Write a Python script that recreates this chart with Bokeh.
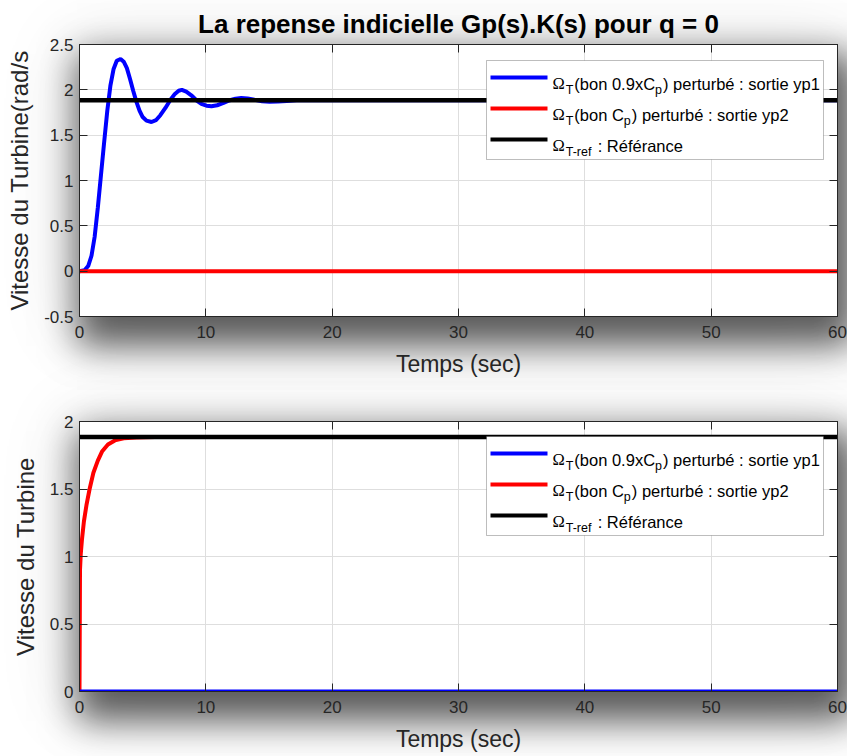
from bokeh.plotting import figure
from bokeh.layouts import column
from bokeh.models import (Range1d, FixedTicker, LinearAxis, BoxAnnotation, Label,
                          CustomJSTickFormatter, InlineStyleSheet)
from bokeh.embed import file_html
from bokeh.resources import INLINE

# ---- data -----------------------------------------------------------------
# yp1 : step response with 0.9xCp (perturbed), read at sample instants
t_yp1 = [0, 0.4, 0.7, 0.95, 1.2, 1.45, 1.7, 1.95, 2.2, 2.45, 2.7, 2.95, 3.25,
         3.5, 3.75, 4.0, 4.25, 4.5, 4.75, 5.0, 5.3, 5.7, 6.05, 6.4, 6.8, 7.2,
         7.55, 7.85, 8.1, 8.45, 8.85, 9.25, 9.65, 10.05, 10.45, 10.9, 11.4,
         11.9, 12.35, 12.8, 13.3, 13.85, 14.45, 15.05, 15.7, 16.4, 17.2, 18.0,
         18.9, 20.0, 22.0, 60.0]
yp1_top = [0, 0.01, 0.06, 0.17, 0.38, 0.70, 1.06, 1.42, 1.77, 2.05, 2.23,
           2.32, 2.34, 2.31, 2.24, 2.12, 1.99, 1.87, 1.77, 1.70, 1.66, 1.645,
           1.665, 1.72, 1.80, 1.89, 1.955, 1.99, 2.0, 1.98, 1.94, 1.885, 1.845,
           1.825, 1.82, 1.83, 1.855, 1.885, 1.903, 1.91, 1.905, 1.89, 1.875,
           1.868, 1.87, 1.878, 1.886, 1.888, 1.886, 1.884, 1.885, 1.885]
# yp2 : correct Cp, stays at zero in the first case
t_flat = [0, 60]
yp2_top = [0, 0]
# second case: yp2 responds, yp1 stays at zero
t_yp2 = [0, 0.04, 0.1, 0.2, 0.35, 0.55, 0.8, 1.1, 1.45, 1.8, 2.25, 2.8, 3.5,
         4.5, 6.0, 60.0]
yp2_bot = [0, 0.9, 1.02, 1.13, 1.26, 1.38, 1.5, 1.62, 1.71, 1.78, 1.83, 1.86,
           1.875, 1.882, 1.885, 1.885]
yp1_bot = [0, 0]
# reference speed
t_ref = [0, 60]
y_ref = [1.885, 1.885]

x_ticks = [0, 10, 20, 30, 40, 50, 60]
x_tick_labels = ["0", "10", "20", "30", "40", "50", "60"]
y_ticks_top = [-0.5, 0, 0.5, 1, 1.5, 2, 2.5]
y_tick_labels_top = ["-0.5", "0", "0.5", "1", "1.5", "2", "2.5"]
y_ticks_bot = [0, 0.5, 1, 1.5, 2]
y_tick_labels_bot = ["0", "0.5", "1", "1.5", "2"]

title_text = "La repense indicielle Gp(s).K(s) pour q = 0"
xlabel = "Temps (sec)"
ylabel_top = "Vitesse du Turbine(rad/s"
ylabel_bot = "Vitesse du Turbine"

# legend rows: list of (text, subscript?) pieces and the line colour
legend_rows = [
    ([("\u03a9", False), ("T", True), ("(bon 0.9xC", False), ("p", True),
      (") perturb\u00e9 : sortie yp1", False)], "#0000ff"),
    ([("\u03a9", False), ("T", True), ("(bon C", False), ("p", True),
      (") perturb\u00e9 : sortie yp2", False)], "#ff0000"),
    ([("\u03a9", False), ("T-ref", True), (" : R\u00e9f\u00e9rance", False)], "#000000"),
]

# ---- styling --------------------------------------------------------------
FONT = "Liberation Sans"
AX = "#262626"
FW = 758
LEFT = 79
LEG_MAIN = 16.5
LEG_SUB = 12.5

# advance widths (1/1000 em) of the sans font, used to butt legend pieces
ADV = {" ": 278, "(": 333, ")": 333, "b": 556, "o": 556, "n": 556, "0": 556,
       ".": 278, "9": 556, "x": 500, "C": 722, "p": 556, "e": 556, "r": 333,
       "t": 278, "u": 556, "\u00e9": 556, ":": 278, "s": 500, "i": 222,
       "y": 500, "1": 556, "2": 556, "T": 611, "-": 333, "f": 278, "R": 722,
       "a": 556, "c": 500}


def text_width(s, size):
    if s == "\u03a9":
        return 0.80 * size
    return sum(ADV.get(ch, 556) for ch in s) / 1000.0 * size


def style_axis(ax, ticks, labels, label_size):
    ax.ticker = FixedTicker(ticks=ticks)
    ax.major_label_overrides = {tk: lb for tk, lb in zip(ticks, labels)}
    ax.major_label_text_font = FONT
    ax.major_label_text_font_size = "17px"
    ax.major_label_text_color = AX
    ax.axis_line_color = AX
    ax.major_tick_line_color = AX
    ax.major_tick_in = 8
    ax.major_tick_out = 0
    ax.minor_tick_line_color = None
    ax.axis_label_text_font = FONT
    ax.axis_label_text_font_size = label_size
    ax.axis_label_text_font_style = "normal"
    ax.axis_label_text_color = AX


def mirror_axis(p, ticks, side):
    ax = LinearAxis(ticker=FixedTicker(ticks=ticks),
                    formatter=CustomJSTickFormatter(code="return ''"))
    ax.axis_line_color = AX
    ax.major_tick_line_color = AX
    ax.major_tick_in = 8
    ax.major_tick_out = 0
    ax.minor_tick_line_color = None
    ax.major_label_standoff = 0
    ax.major_label_text_font_size = "1px"
    p.add_layout(ax, side)


def shadow_sheet(top, fh):
    # blurred drop shadow behind the axes box, seen through the transparent border
    css = (
        ":host::before {"
        " content: ''; position: absolute;"
        f" left: {LEFT}px; top: {top}px; width: {FW}px; height: {fh}px;"
        " box-shadow: 8px 20px 34px 10px rgba(0,0,0,0.62),"
        " 0px 8px 70px 10px rgba(0,0,0,0.10);"
        " pointer-events: none; }"
    )
    return InlineStyleSheet(css=css)


def add_legend(p, y0, y1, fh, top_px):
    def fx(px):
        return px / FW * 60.0

    def fy(py):
        return y1 - (top_px + py) / fh * (y1 - y0)

    p.add_layout(BoxAnnotation(left=fx(407), right=fx(744), top=fy(0), bottom=fy(99),
                               fill_color="white", fill_alpha=1.0,
                               line_color=AX, line_width=1))
    for i, (pieces, col) in enumerate(legend_rows):
        cy = 17 + 31 * i
        p.add_layout(BoxAnnotation(left=fx(411), right=fx(468), top=fy(cy - 2),
                                   bottom=fy(cy + 2), fill_color=col, fill_alpha=1.0,
                                   line_color=None))
        xpos = 473.0
        for text, sub in pieces:
            size = LEG_SUB if sub else LEG_MAIN
            font = "Liberation Serif" if text == "\u03a9" else FONT
            shown = text.lstrip(" ")
            xpos += text_width(text[:len(text) - len(shown)], size)
            p.add_layout(Label(x=fx(xpos), y=fy(cy + 6), text=shown,
                               text_font=font, text_font_size=f"{size}px",
                               text_color="black", text_baseline="alphabetic",
                               text_align="left", y_offset=-6 if sub else 0))
            xpos += text_width(shown, size) + (1 if sub else 0)


def make_fig(y0, y1, yt, yl, ylabel, fh, top_border, bottom_border, title=None):
    p = figure(frame_width=FW, frame_height=fh,
               x_range=Range1d(0, 60), y_range=Range1d(y0, y1),
               output_backend="svg", toolbar_location=None,
               min_border_left=LEFT, min_border_right=10,
               min_border_top=top_border, min_border_bottom=bottom_border,
               title=title, x_axis_label=xlabel, y_axis_label=ylabel,
               styles={"background-color": "white"},
               stylesheets=[shadow_sheet(top_border, fh)])
    p.background_fill_color = "white"
    p.border_fill_color = None
    p.outline_line_color = AX
    style_axis(p.xaxis[0], x_ticks, x_tick_labels, "23px")
    style_axis(p.yaxis[0], yt, yl, "24px")
    p.xaxis[0].major_label_standoff = 9
    p.yaxis[0].major_label_standoff = 6
    p.xaxis[0].axis_label_standoff = 10
    p.yaxis[0].axis_label_standoff = 8
    mirror_axis(p, x_ticks, "above")
    mirror_axis(p, yt, "right")
    p.xgrid.ticker = FixedTicker(ticks=x_ticks)
    p.ygrid.ticker = FixedTicker(ticks=yt)
    p.grid.grid_line_color = "#dedede"
    p.grid.grid_line_width = 1
    if title is not None:
        p.title.text_font = FONT
        p.title.text_font_size = "26px"
        p.title.text_font_style = "bold"
        p.title.text_color = "black"
        p.title.align = "center"
        p.title.standoff = 12
    return p


# ---- first case: 0.9xCp -----------------------------------------------------
p1 = make_fig(-0.5, 2.5, y_ticks_top, y_tick_labels_top, ylabel_top, 272, 44, 74,
              title=title_text)
p1.line(t_yp1, yp1_top, line_color="#0000ff", line_width=4)
p1.line(t_flat, yp2_top, line_color="#ff0000", line_width=4)
p1.line(t_ref, y_ref, line_color="black", line_width=4.5)
add_legend(p1, -0.5, 2.5, 272, 16)

# ---- second case: correct Cp ------------------------------------------------
p2 = make_fig(0, 2, y_ticks_bot, y_tick_labels_bot, ylabel_bot, 270, 31, 65)
p2.line(t_yp2, yp2_bot, line_color="#ff0000", line_width=4)
p2.line(t_flat, yp1_bot, line_color="#0000ff", line_width=4)
p2.line(t_ref, y_ref, line_color="black", line_width=4.5)
add_legend(p2, 0, 2, 270, 15)

layout = column(p1, p2, spacing=0)
open("out.html", "w").write(file_html(layout, INLINE))
